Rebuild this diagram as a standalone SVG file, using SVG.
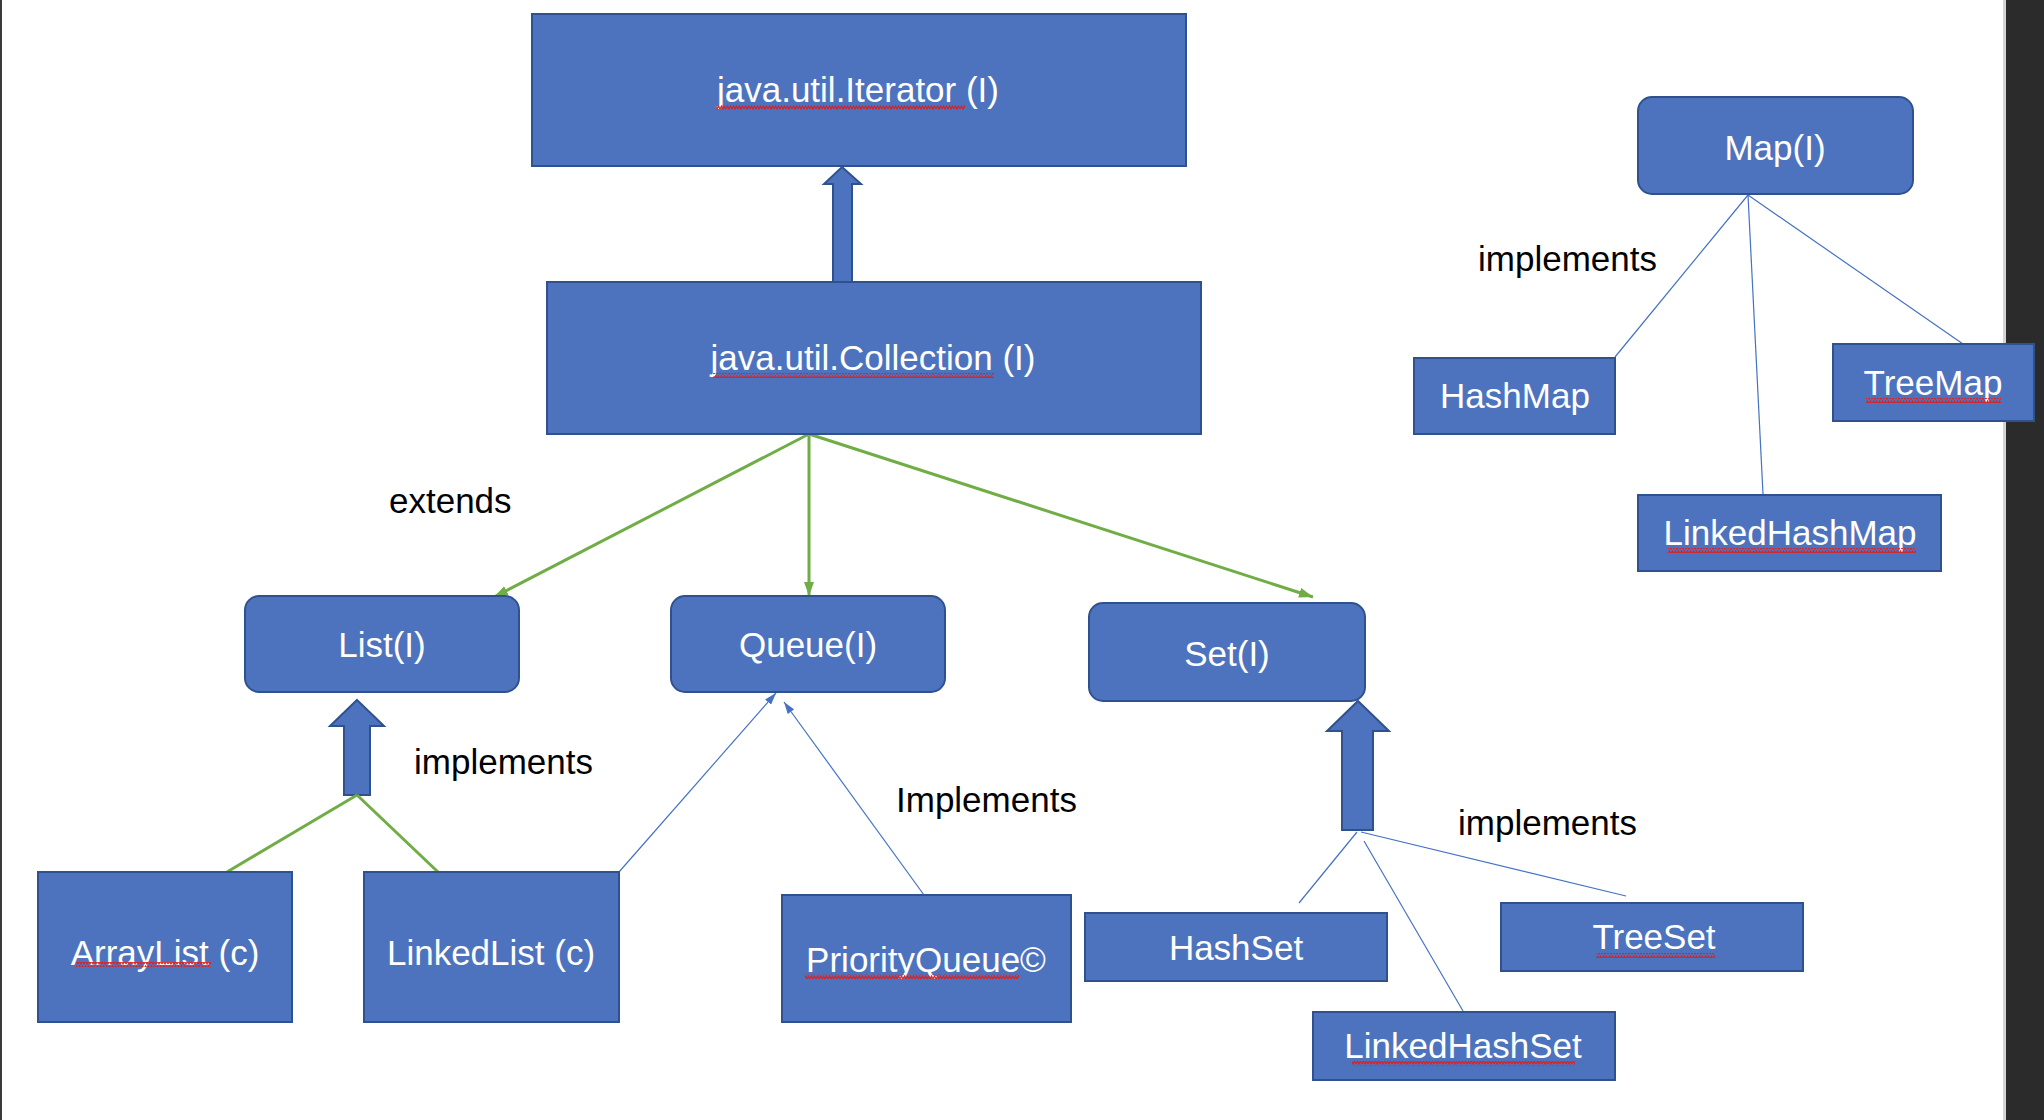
<svg xmlns="http://www.w3.org/2000/svg" width="2044" height="1120" viewBox="0 0 2044 1120">
<style>
.box{fill:#4E73BE;stroke:#2F528F;stroke-width:2}
.nt{font-family:"Liberation Sans",Arial,sans-serif;font-size:35px;fill:#ffffff;text-anchor:middle}
.lb{font-family:"Liberation Sans",Arial,sans-serif;font-size:35px;fill:#000000}
.thin{stroke:#4472C4;stroke-width:1.2;fill:none}
.green{stroke:#70AD47;stroke-width:3;fill:none}
.sq{fill:url(#squig)}
</style>
<defs>
<pattern id="squig" width="6" height="5" patternUnits="userSpaceOnUse">
<polyline points="0,4 1.5,1 3,4 4.5,1 6,4" fill="none" stroke="#E0201C" stroke-width="1.2"/>
</pattern>
<marker id="ga" viewBox="0 0 14 10" refX="14" refY="5" markerWidth="14" markerHeight="10" markerUnits="userSpaceOnUse" orient="auto">
<path d="M0,0 L14,5 L0,10 Z" fill="#70AD47"/>
</marker>
<marker id="ba" viewBox="0 0 12 8" refX="12" refY="4" markerWidth="12" markerHeight="8" markerUnits="userSpaceOnUse" orient="auto">
<path d="M0,0 L12,4 L0,8 Z" fill="#4472C4"/>
</marker>
</defs>
<rect x="0" y="0" width="2044" height="1120" fill="#ffffff"/>
<rect x="0" y="0" width="2" height="1120" fill="#3a3a3a"/>
<rect x="2003" y="0" width="3" height="1120" fill="#d4d4d4"/>
<rect x="2006" y="0" width="38" height="1120" fill="#2b2b2b"/>

<g id="connectors">
<polygon class="box" points="842,167 861,184 852,184 852,282 833,282 833,184 824,184"/>
<polygon class="box" points="357,700 384,726 370,726 370,795 344,795 344,726 330,726"/>
<polygon class="box" points="1358,701 1389,731 1373,731 1373,830 1342,830 1342,731 1327,731"/>
<line class="green" x1="809" y1="434" x2="494" y2="597" marker-end="url(#ga)"/>
<line class="green" x1="809" y1="436" x2="809" y2="596" marker-end="url(#ga)"/>
<line class="green" x1="809" y1="434" x2="1313" y2="597" marker-end="url(#ga)"/>
<line class="green" x1="357" y1="795" x2="227" y2="872"/>
<line class="green" x1="357" y1="795" x2="438" y2="872"/>
<line class="thin" x1="619" y1="872" x2="776" y2="693" marker-end="url(#ba)"/>
<line class="thin" x1="924" y1="895" x2="784" y2="702" marker-end="url(#ba)"/>
<line class="thin" x1="1357" y1="832" x2="1299" y2="903"/>
<line class="thin" x1="1364" y1="841" x2="1463" y2="1011"/>
<line class="thin" x1="1361" y1="832" x2="1626" y2="896"/>
<line class="thin" x1="1748" y1="195" x2="1615" y2="357"/>
<line class="thin" x1="1748" y1="195" x2="1763" y2="494"/>
<line class="thin" x1="1748" y1="195" x2="1963" y2="344"/>
</g>

<g id="iterator">
<rect class="box" x="532" y="14" width="654" height="152"/>
<text class="nt" x="858" y="102">java.util.Iterator (I)</text>
<rect class="sq" x="716" y="105" width="249" height="5"/>
</g>
<g id="collection">
<rect class="box" x="547" y="282" width="654" height="152"/>
<text class="nt" x="873" y="370">java.util.Collection (I)</text>
<rect class="sq" x="713" y="373" width="281" height="5"/>
</g>
<g id="list">
<rect class="box" x="245" y="596" width="274" height="96" rx="14"/>
<text class="nt" x="382" y="657">List(I)</text>
</g>
<g id="queue">
<rect class="box" x="671" y="596" width="274" height="96" rx="14"/>
<text class="nt" x="808" y="657">Queue(I)</text>
</g>
<g id="set">
<rect class="box" x="1089" y="603" width="276" height="98" rx="14"/>
<text class="nt" x="1227" y="666">Set(I)</text>
</g>
<g id="arraylist">
<rect class="box" x="38" y="872" width="254" height="150"/>
<text class="nt" x="165" y="965">ArrayList (c)</text>
<rect class="sq" x="76" y="962" width="135" height="5"/>
</g>
<g id="linkedlist">
<rect class="box" x="364" y="872" width="255" height="150"/>
<text class="nt" x="491" y="965">LinkedList (c)</text>
</g>
<g id="priorityqueue">
<rect class="box" x="782" y="895" width="289" height="127"/>
<text class="nt" x="926" y="972">PriorityQueue©</text>
<rect class="sq" x="805" y="974" width="214" height="5"/>
</g>
<g id="hashset">
<rect class="box" x="1085" y="913" width="302" height="68"/>
<text class="nt" x="1236" y="960">HashSet</text>
</g>
<g id="linkedhashset">
<rect class="box" x="1313" y="1012" width="302" height="68"/>
<text class="nt" x="1463" y="1058">LinkedHashSet</text>
<rect class="sq" x="1352" y="1061" width="223" height="5"/>
</g>
<g id="treeset">
<rect class="box" x="1501" y="903" width="302" height="68"/>
<text class="nt" x="1654" y="949">TreeSet</text>
<rect class="sq" x="1596" y="953" width="119" height="5"/>
</g>
<g id="map">
<rect class="box" x="1638" y="97" width="275" height="97" rx="14"/>
<text class="nt" x="1775" y="160">Map(I)</text>
</g>
<g id="hashmap">
<rect class="box" x="1414" y="358" width="201" height="76"/>
<text class="nt" x="1515" y="408">HashMap</text>
</g>
<g id="treemap">
<rect class="box" x="1833" y="344" width="201" height="77"/>
<text class="nt" x="1933" y="395">TreeMap</text>
<rect class="sq" x="1866" y="398" width="135" height="5"/>
</g>
<g id="linkedhashmap">
<rect class="box" x="1638" y="495" width="303" height="76"/>
<text class="nt" x="1790" y="545">LinkedHashMap</text>
<rect class="sq" x="1668" y="548" width="248" height="5"/>
</g>

<g id="labels">
<text class="lb" x="389" y="513">extends</text>
<text class="lb" x="414" y="774">implements</text>
<text class="lb" x="896" y="812">Implements</text>
<text class="lb" x="1458" y="835">implements</text>
<text class="lb" x="1478" y="271">implements</text>
</g>
</svg>
